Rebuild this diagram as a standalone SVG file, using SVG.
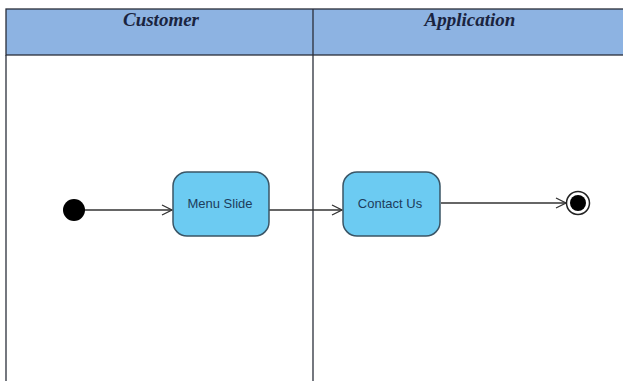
<svg xmlns="http://www.w3.org/2000/svg" width="623" height="381" viewBox="0 0 623 381">
<defs>
<style>
.lane{fill:#ffffff;stroke:#2a2f3a;stroke-width:1.3}
.hdr{fill:#8db3e2;stroke:#2a2f3a;stroke-width:1.3}
.ht{font-family:"Liberation Serif",serif;font-weight:bold;font-style:italic;font-size:19px;fill:#1a2440;text-anchor:middle}
.act{fill:#6ccbf2;stroke:#3a5566;stroke-width:1.5}
.at{font-family:"Liberation Sans",Arial,sans-serif;font-size:13px;fill:#1d3d5c;text-anchor:middle}
.edge{stroke:#333;stroke-width:1.3;fill:none}
</style>
<marker id="arr" markerWidth="14" markerHeight="14" refX="11" refY="6" orient="auto" markerUnits="userSpaceOnUse">
<path d="M1,1 L11,6 L1,11" fill="none" stroke="#333" stroke-width="1.3"/>
</marker>
</defs>
<rect width="623" height="381" fill="#ffffff"/>
<g id="lanes">
<rect class="hdr" x="6" y="9" width="620" height="46"/>
<line class="lane" x1="6" y1="55" x2="6" y2="381"/>
<line class="lane" x1="313" y1="9" x2="313" y2="381"/>
<text class="ht" x="161" y="26">Customer</text>
<text class="ht" x="470" y="26">Application</text>
</g>
<g id="connectors">
<line class="edge" x1="80" y1="210" x2="172" y2="210" marker-end="url(#arr)"/>
<line class="edge" x1="269" y1="210" x2="342" y2="210" marker-end="url(#arr)"/>
<line class="edge" x1="441" y1="203" x2="566" y2="203" marker-end="url(#arr)"/>
</g>
<g id="initial">
<circle cx="74" cy="210" r="11" fill="#000"/>
</g>
<g id="menu-slide">
<rect class="act" x="173" y="172" width="96" height="64" rx="14" ry="14"/>
<text class="at" x="220" y="208">Menu Slide</text>
</g>
<g id="contact-us">
<rect class="act" x="343" y="172" width="97" height="64" rx="14" ry="14"/>
<text class="at" x="390" y="208">Contact Us</text>
</g>
<g id="final">
<circle cx="578" cy="203" r="11.5" fill="#fff" stroke="#222" stroke-width="1.5"/>
<circle cx="578" cy="203" r="8" fill="#000"/>
</g>
</svg>
